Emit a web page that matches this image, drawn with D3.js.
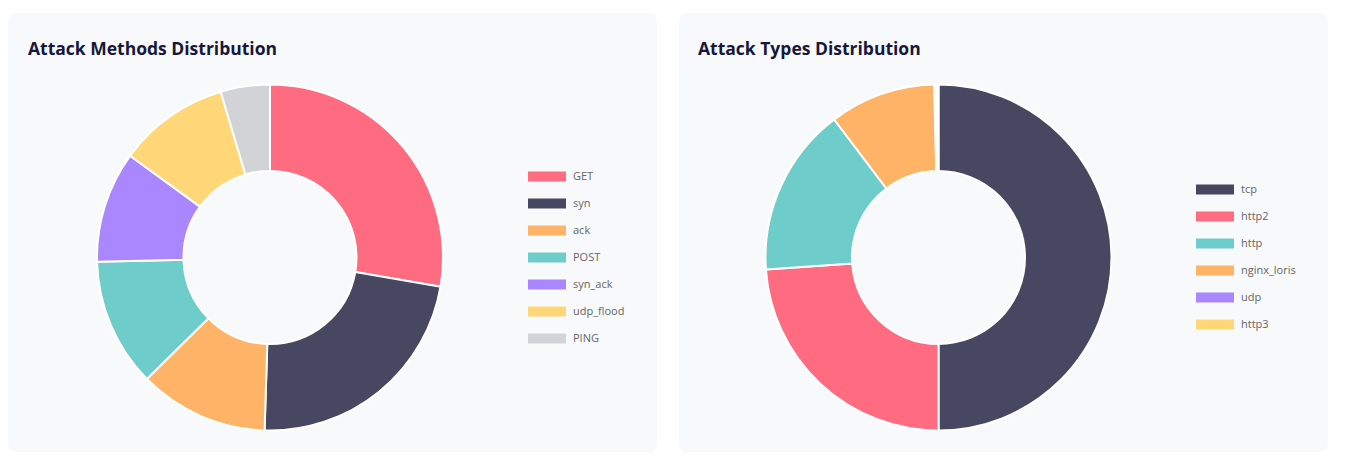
<!DOCTYPE html>
<html><head><meta charset="utf-8">
<script src="https://cdn.jsdelivr.net/npm/d3@7"></script>
<style>
html,body{margin:0;padding:0;background:#fff;}
svg{display:block;}
</style></head>
<body>
<svg id="chart" width="1347" height="463"></svg>
<script>
const methodLabels = ["GET","syn","ack","POST","syn_ack","udp_flood","PING"];
const methodValues = [27.7,22.8,12.1,12.0,10.4,10.4,4.6];
const methodColors = ["#ff6b81","#474761","#ffb366","#6ecdca","#ab87ff","#ffd778","#d1d3d7"];

const typeLabels = ["tcp","http2","http","nginx_loris","udp","http3"];
const typeValues = [50.0,23.9,15.8,9.9,0.2,0.2];
const typeColors = ["#474761","#ff6b81","#6ecdca","#ffb366","#ab87ff","#ffd778"];

const svg = d3.select("#chart");

function panel(x0, title, titleX, labels, values, colors, cx, cy, legX, legY0){
  const g = svg.append("g");
  g.append("rect").attr("x",x0).attr("y",13).attr("width",649).attr("height",439)
    .attr("rx",8).attr("fill","#f8f9fb");
  g.append("text").attr("x",titleX).attr("y",55).text(title)
    .attr("font-family","'Open Sans', sans-serif").attr("font-weight",700)
    .attr("font-size",17.5).attr("fill","#17173a");
  const pie = d3.pie().sort(null).value(d=>d.v);
  const data = labels.map((l,i)=>({l, v: values[i], c: colors[i]}));
  const arc = d3.arc().innerRadius(86.5).outerRadius(173);
  g.append("g").attr("transform",`translate(${cx},${cy})`)
    .selectAll("path").data(pie(data)).join("path")
    .attr("d",arc).attr("fill",d=>d.data.c)
    .attr("stroke","#fff").attr("stroke-width",2).attr("stroke-linejoin","round");
  const ly = d3.scalePoint().domain(labels).range([legY0, legY0 + 27*(labels.length-1)]);
  const lg = g.append("g");
  labels.forEach((l,i)=>{
    lg.append("rect").attr("x",legX).attr("y",ly(l)-5).attr("width",38).attr("height",10)
      .attr("fill",colors[i]);
    lg.append("text").attr("x",legX+45).attr("y",ly(l)).attr("dy","0.35em").text(l)
      .attr("font-family","'Open Sans', sans-serif").attr("font-size",11).attr("fill","#666");
  });
}

panel(8, "Attack Methods Distribution", 28, methodLabels, methodValues, methodColors, 270, 257.5, 528, 176.5);
panel(679, "Attack Types Distribution", 698, typeLabels, typeValues, typeColors, 938.5, 257.5, 1196, 189.5);
</script>
</body></html>
